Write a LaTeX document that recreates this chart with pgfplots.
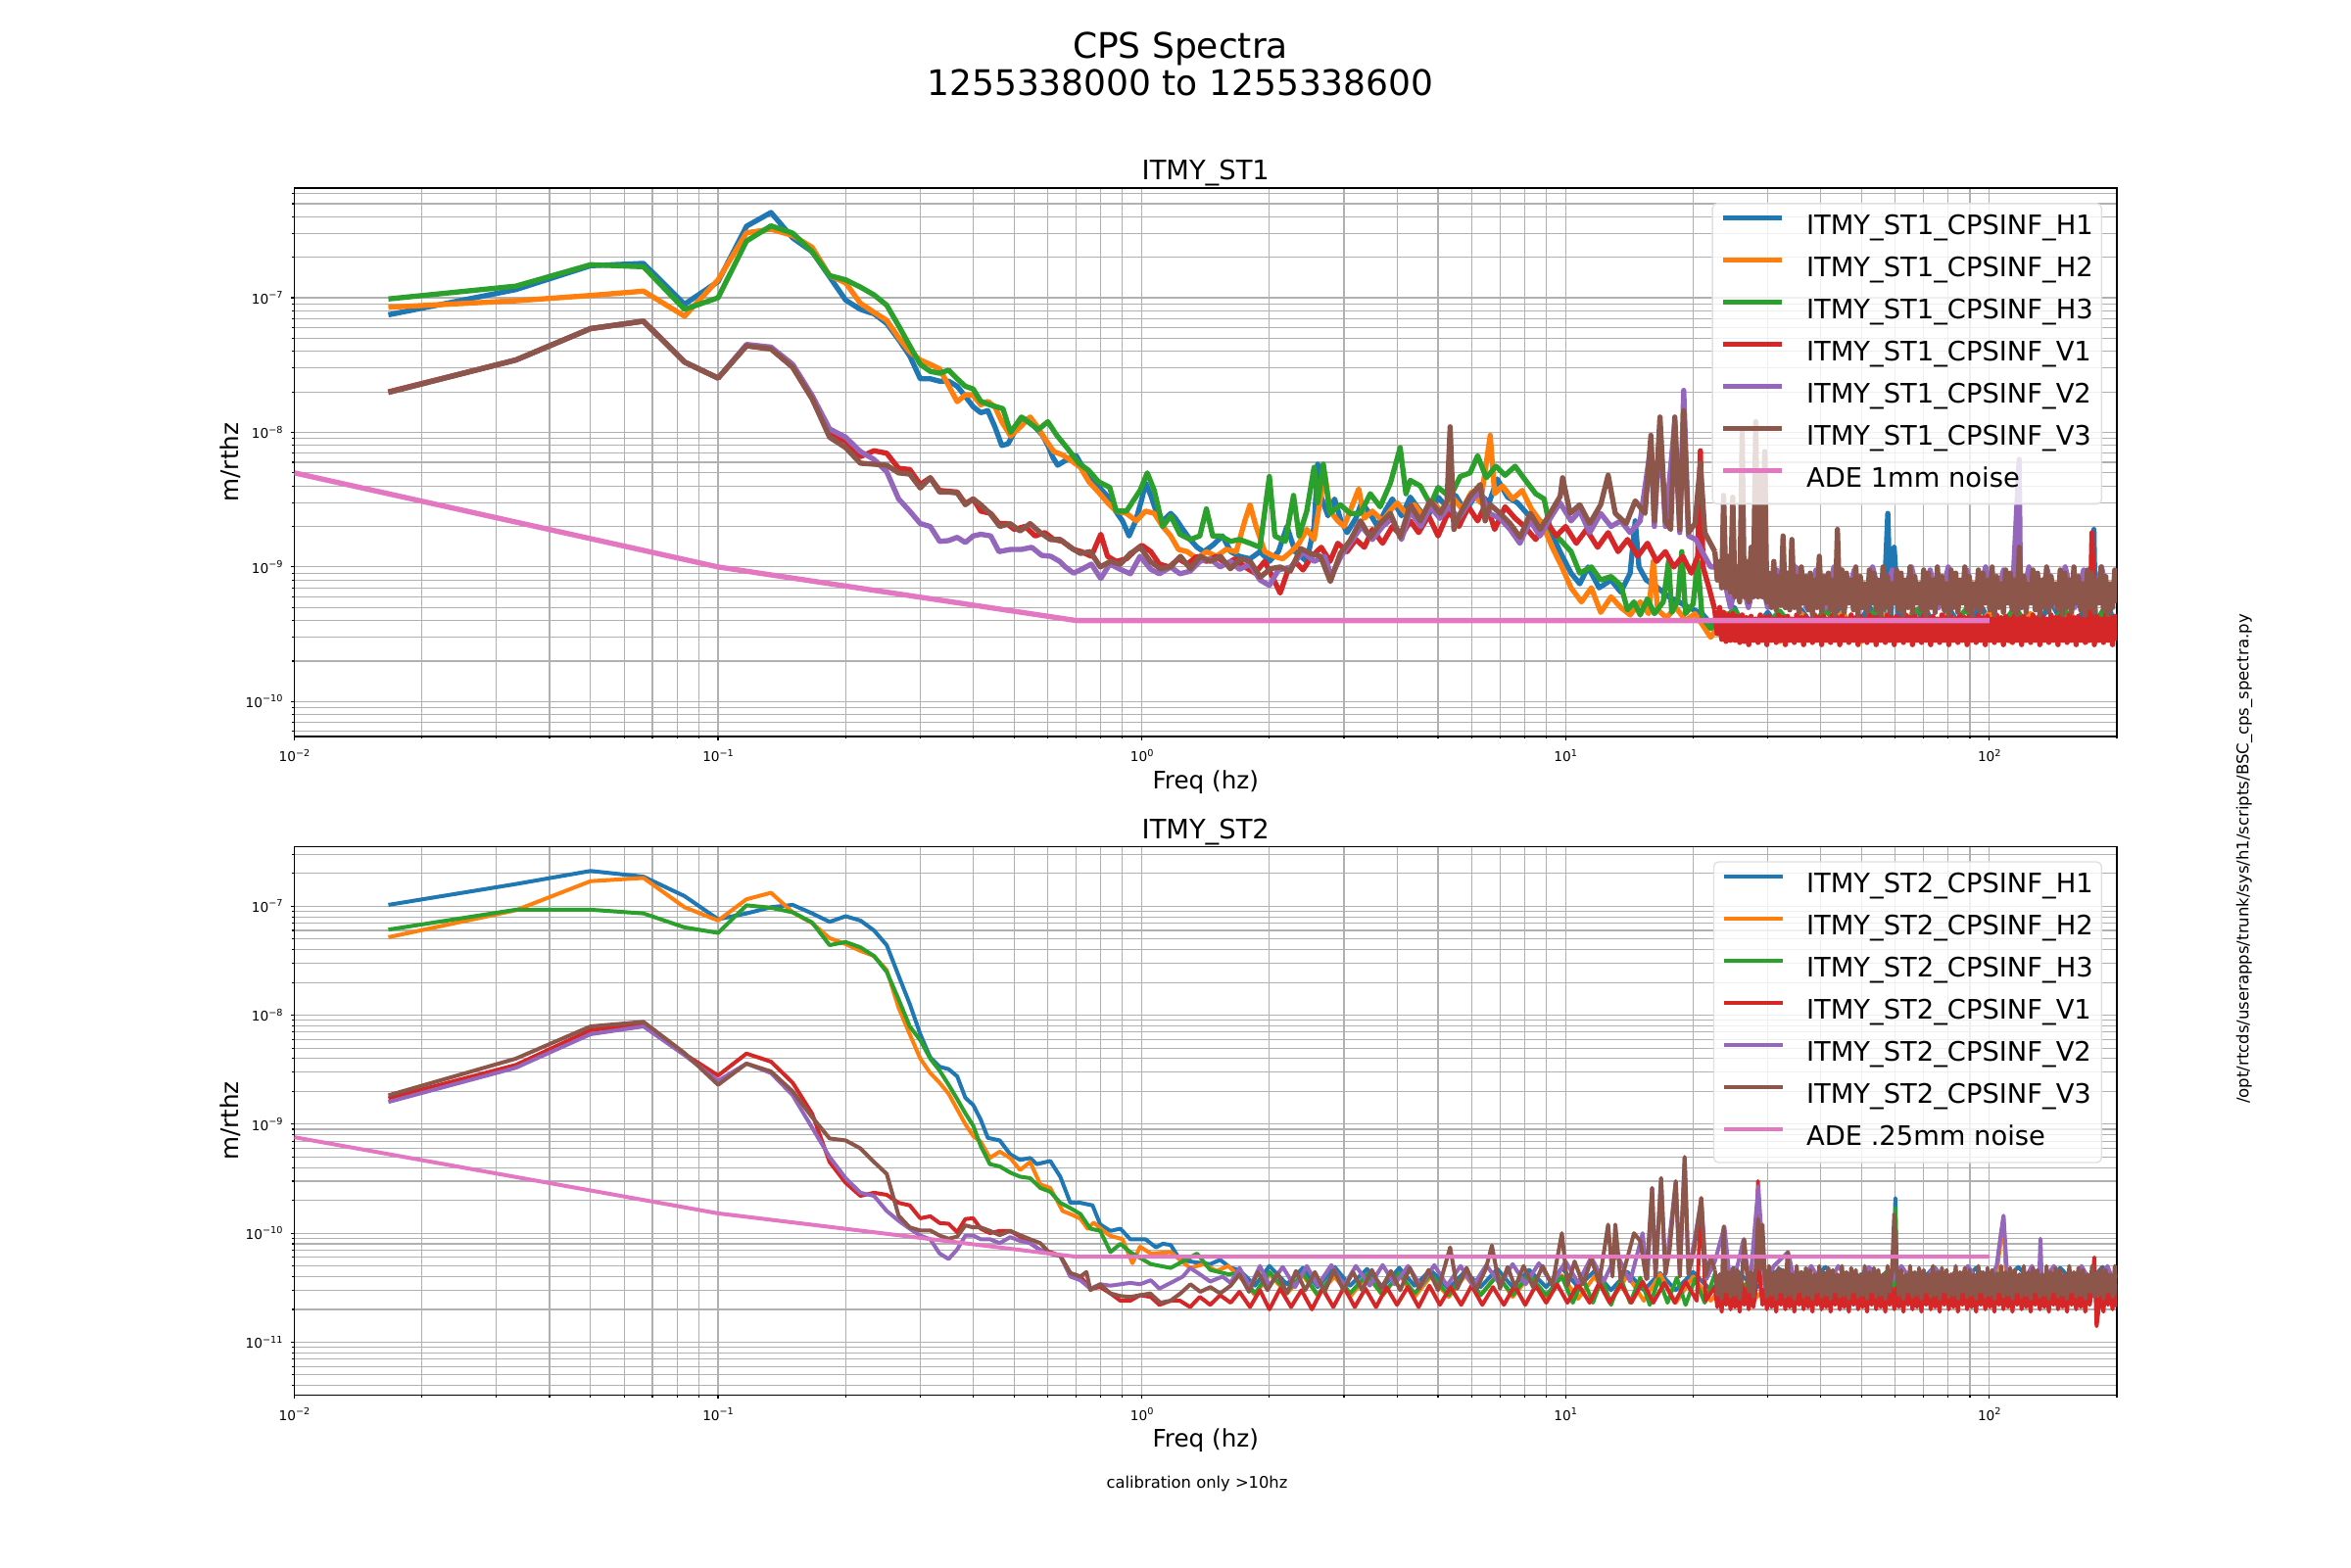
\documentclass[border=0pt]{standalone}
\usepackage{fontspec}
\setmainfont{DejaVu Sans}
\usepackage{pgfplots}
\usepackage{pgfplotstable}
\pgfplotsset{compat=1.18}
\definecolor{c0}{HTML}{1F77B4}
\definecolor{c1}{HTML}{FF7F0E}
\definecolor{c2}{HTML}{2CA02C}
\definecolor{c3}{HTML}{D62728}
\definecolor{c4}{HTML}{9467BD}
\definecolor{c5}{HTML}{8C564B}
\definecolor{c6}{HTML}{E377C2}
\definecolor{gridc}{HTML}{B0B0B0}
\tikzset{spec/.style={line width=1.2pt, line join=round}}
\tikzset{spectop/.style={line width=1.6pt, line join=round}}
\newcommand{\tklab}[1]{10\raisebox{1.7pt}{\fontsize{2.9}{3}\selectfont #1}}
\pgfplotstableread{
f r b
22.5 4.8e-10 1.3e-9
22.8 3.2e-10 8e-10
23.1 5.0e-10 1.1e-9
23.35 2.9e-10 7e-10
23.6 4.6e-10 3.4e-9
23.9 2.8e-10 7e-10
24.2 4.4e-10 1.2e-9
24.5 2.85e-10 6.5e-10
24.8 4.5e-10 3.3e-9
25.1 2.85e-10 6e-10
25.4 4.3e-10 1.0e-9
25.75 2.75e-10 5.5e-10
26.1 4.4e-10 1.0e-8
26.4 2.8e-10 6e-10
26.7 4.2e-10 1.1e-9
27.05 2.65e-10 5.5e-10
27.4 4.3e-10 1.4e-9
27.75 2.85e-10 6e-10
28.1 4.1e-10 1.2e-8
28.45 2.75e-10 6e-10
28.8 4.4e-10 4.9e-9
29.15 2.85e-10 6e-10
29.5 4.2e-10 7.2e-9
29.85 2.65e-10 5.5e-10
30.2 4.3e-10 9e-10
30.6 2.85e-10 5e-10
31.0 4.1e-10 1.1e-9
31.4 2.75e-10 4.8e-10
31.8 4.4e-10 8.5e-10
32.2 2.85e-10 5.2e-10
32.6 4.2e-10 1.7e-9
33.0 2.65e-10 5e-10
33.4 4.3e-10 9e-10
33.8 2.85e-10 4.8e-10
34.2 4.1e-10 1.6e-9
34.65 2.75e-10 5e-10
35.1 4.4e-10 8.5e-10
35.55 2.85e-10 4.6e-10
36.0 4.2e-10 1.0e-9
36.45 2.65e-10 5.4e-10
36.9 4.3e-10 8.5e-10
37.35 2.85e-10 4.8e-10
37.8 4.1e-10 9e-10
38.25 2.75e-10 4.4e-10
38.7 4.4e-10 8e-10
39.2 2.85e-10 5e-10
39.7 4.2e-10 1.2e-9
40.2 2.65e-10 4.6e-10
40.7 4.3e-10 8.5e-10
41.2 2.85e-10 5.4e-10
41.7 4.1e-10 9e-10
42.2 2.75e-10 4.8e-10
42.7 4.4e-10 8e-10
43.25 2.85e-10 4.4e-10
43.8 4.2e-10 1.9e-9
44.35 2.65e-10 5e-10
44.9 4.3e-10 9.5e-10
45.45 2.85e-10 4.6e-10
46.0 4.1e-10 9e-10
46.6 2.75e-10 5.4e-10
47.2 4.4e-10 8e-10
47.8 2.85e-10 4.8e-10
48.4 4.2e-10 1.0e-9
49.0 2.65e-10 4.4e-10
49.6 4.3e-10 8.5e-10
50.2 2.85e-10 5e-10
50.8 4.1e-10 7.5e-10
51.45 2.75e-10 4.6e-10
52.1 4.4e-10 9.5e-10
52.75 2.85e-10 5.4e-10
53.4 4.2e-10 9e-10
54.05 2.65e-10 4.8e-10
54.7 4.3e-10 8e-10
55.4 2.85e-10 4.4e-10
56.1 4.1e-10 1.0e-9
56.8 2.75e-10 5e-10
57.5 4.4e-10 8.5e-10
58.2 2.85e-10 4.6e-10
58.9 4.2e-10 7.5e-10
59.65 2.65e-10 5.4e-10
60.4 4.3e-10 9.5e-10
61.15 2.85e-10 4.8e-10
61.9 4.1e-10 9e-10
62.7 2.75e-10 4.4e-10
63.5 4.4e-10 8e-10
64.25 2.85e-10 5e-10
65.0 4.2e-10 1.0e-9
65.85 2.65e-10 4.6e-10
66.7 4.3e-10 8.5e-10
67.5 2.85e-10 5.4e-10
68.3 4.1e-10 7.5e-10
69.15 2.75e-10 4.8e-10
70.0 4.4e-10 9.5e-10
70.9 2.85e-10 4.4e-10
71.8 4.2e-10 9e-10
72.7 2.65e-10 5e-10
73.6 4.3e-10 8e-10
74.5 2.85e-10 4.6e-10
75.4 4.1e-10 1.0e-9
76.35 2.75e-10 5.4e-10
77.3 4.4e-10 8.5e-10
78.3 2.85e-10 4.8e-10
79.3 4.2e-10 7.5e-10
80.25 2.65e-10 4.4e-10
81.2 4.3e-10 9.5e-10
82.25 2.85e-10 5e-10
83.3 4.1e-10 9e-10
84.3 2.75e-10 4.6e-10
85.3 4.4e-10 8e-10
86.4 2.85e-10 5.4e-10
87.5 4.2e-10 1.0e-9
88.6 2.65e-10 4.8e-10
89.7 4.3e-10 8.5e-10
90.8 2.85e-10 4.4e-10
91.9 4.1e-10 7.5e-10
93.05 2.75e-10 5e-10
94.2 4.4e-10 9.5e-10
95.4 2.85e-10 4.6e-10
96.6 4.2e-10 9e-10
97.8 2.65e-10 5.4e-10
99.0 4.3e-10 8e-10
100.25 2.85e-10 4.8e-10
101.5 4.1e-10 1.0e-9
102.75 2.75e-10 4.4e-10
104.0 4.4e-10 8.5e-10
105.3 2.85e-10 5e-10
106.6 4.2e-10 7.5e-10
107.95 2.65e-10 4.6e-10
109.3 4.3e-10 9.5e-10
110.65 2.85e-10 5.4e-10
112.0 4.1e-10 9e-10
113.4 2.75e-10 4.8e-10
114.8 4.4e-10 8e-10
116.25 2.85e-10 4.4e-10
117.7 4.2e-10 1.4e-9
119.15 2.65e-10 5e-10
120.6 4.3e-10 8.5e-10
122.1 2.85e-10 4.6e-10
123.6 4.1e-10 7.5e-10
125.15 2.75e-10 5.4e-10
126.7 4.4e-10 9.5e-10
128.3 2.85e-10 4.8e-10
129.9 4.2e-10 9e-10
131.55 2.65e-10 4.4e-10
133.2 4.3e-10 8e-10
134.85 2.85e-10 5e-10
136.5 4.1e-10 1.0e-9
138.2 2.75e-10 4.6e-10
139.9 4.4e-10 8.5e-10
141.65 2.85e-10 5.4e-10
143.4 4.2e-10 7.5e-10
145.2 2.65e-10 4.8e-10
147.0 4.3e-10 9.5e-10
148.85 2.85e-10 4.4e-10
150.7 4.1e-10 9e-10
152.55 2.75e-10 5e-10
154.4 4.4e-10 8e-10
156.35 2.85e-10 4.6e-10
158.3 4.2e-10 1.0e-9
160.25 2.65e-10 5.4e-10
162.2 4.3e-10 8.5e-10
164.25 2.85e-10 4.8e-10
166.3 4.1e-10 7.5e-10
168.4 2.75e-10 4.4e-10
170.5 4.4e-10 9.5e-10
172.6 2.85e-10 5e-10
174.7 1.8e-9 9e-10
176.9 2.65e-10 4.6e-10
179.1 4.3e-10 8e-10
181.35 2.85e-10 5.4e-10
183.6 4.1e-10 1.0e-9
185.9 2.75e-10 4.8e-10
188.2 4.4e-10 8.5e-10
190.55 2.85e-10 4.4e-10
192.9 4.2e-10 7.5e-10
195.3 2.65e-10 5e-10
197.7 4.3e-10 9.5e-10
200 2.85e-10 5.4e-10
}\topband
\pgfplotstableread{
f r b
22.5 3.2e-11 4.6e-11
22.8 2.1e-11 2.7e-11
23.1 3.0e-11 4.2e-11
23.35 1.9e-11 2.5e-11
23.6 3.4e-11 1.15e-10
23.9 2.2e-11 2.9e-11
24.2 3.1e-11 4.4e-11
24.5 2.0e-11 2.6e-11
24.8 3.2e-11 4.8e-11
25.1 2.1e-11 2.7e-11
25.4 3.0e-11 4.6e-11
25.75 1.9e-11 2.5e-11
26.1 3.4e-11 4.2e-11
26.4 2.2e-11 8.8e-11
26.7 3.1e-11 5.0e-11
27.05 2.0e-11 2.9e-11
27.4 3.2e-11 4.4e-11
27.75 2.1e-11 2.6e-11
28.1 3.0e-11 4.8e-11
28.45 3.0e-10 1.35e-10
28.8 3.4e-11 4.6e-11
29.15 2.2e-11 1.2e-10
29.5 3.1e-11 4.2e-11
29.85 2.0e-11 2.6e-11
30.2 3.2e-11 5.0e-11
30.6 2.1e-11 2.7e-11
31.0 3.0e-11 4.4e-11
31.4 1.9e-11 2.5e-11
31.8 3.4e-11 4.8e-11
32.2 2.2e-11 2.9e-11
32.6 3.1e-11 4.6e-11
33.0 2.0e-11 2.6e-11
33.4 3.2e-11 6.7e-11
33.8 2.1e-11 2.7e-11
34.2 3.0e-11 4.2e-11
34.65 1.9e-11 2.5e-11
35.1 3.4e-11 5.0e-11
35.55 2.2e-11 2.9e-11
36.0 3.1e-11 4.4e-11
36.45 2.0e-11 2.6e-11
36.9 3.2e-11 4.8e-11
37.35 2.1e-11 2.7e-11
37.8 3.0e-11 4.6e-11
38.25 1.9e-11 2.5e-11
38.7 3.4e-11 4.2e-11
39.2 2.2e-11 2.9e-11
39.7 3.1e-11 5.0e-11
40.2 2.0e-11 2.6e-11
40.7 3.2e-11 4.4e-11
41.2 2.1e-11 2.7e-11
41.7 3.0e-11 4.8e-11
42.2 1.9e-11 2.5e-11
42.7 3.4e-11 4.6e-11
43.25 2.2e-11 2.9e-11
43.8 3.1e-11 4.2e-11
44.35 2.0e-11 2.6e-11
44.9 3.2e-11 5.0e-11
45.45 2.1e-11 2.7e-11
46.0 3.0e-11 4.4e-11
46.6 1.9e-11 2.5e-11
47.2 3.4e-11 4.8e-11
47.8 2.2e-11 2.9e-11
48.4 3.1e-11 4.6e-11
49.0 2.0e-11 2.6e-11
49.6 3.2e-11 4.2e-11
50.2 2.1e-11 2.7e-11
50.8 3.0e-11 5.0e-11
51.45 1.9e-11 2.5e-11
52.1 3.4e-11 4.4e-11
52.75 2.2e-11 2.9e-11
53.4 3.1e-11 4.8e-11
54.05 2.0e-11 2.6e-11
54.7 3.2e-11 4.6e-11
55.4 2.1e-11 2.7e-11
56.1 3.0e-11 4.2e-11
56.8 1.9e-11 2.5e-11
57.5 3.4e-11 5.0e-11
58.2 2.2e-11 2.9e-11
58.9 3.1e-11 4.4e-11
59.65 2.0e-11 1.5e-10
60.4 3.2e-11 4.8e-11
61.15 2.1e-11 2.7e-11
61.9 3.0e-11 4.6e-11
62.7 1.9e-11 2.5e-11
63.5 3.4e-11 4.2e-11
64.25 2.2e-11 2.9e-11
65.0 3.1e-11 5.0e-11
65.85 2.0e-11 2.6e-11
66.7 3.2e-11 4.4e-11
67.5 2.1e-11 2.7e-11
68.3 3.0e-11 4.8e-11
69.15 1.9e-11 2.5e-11
70.0 3.4e-11 4.6e-11
70.9 2.2e-11 2.9e-11
71.8 3.1e-11 4.2e-11
72.7 2.0e-11 2.6e-11
73.6 3.2e-11 5.0e-11
74.5 2.1e-11 2.7e-11
75.4 3.0e-11 4.4e-11
76.35 1.9e-11 2.5e-11
77.3 3.4e-11 4.8e-11
78.3 2.2e-11 2.9e-11
79.3 3.1e-11 4.6e-11
80.25 2.0e-11 2.6e-11
81.2 3.2e-11 4.2e-11
82.25 2.1e-11 2.7e-11
83.3 3.0e-11 5.0e-11
84.3 1.9e-11 2.5e-11
85.3 3.4e-11 4.4e-11
86.4 2.2e-11 2.9e-11
87.5 3.1e-11 4.8e-11
88.6 2.0e-11 2.6e-11
89.7 3.2e-11 4.6e-11
90.8 2.1e-11 2.7e-11
91.9 3.0e-11 4.2e-11
93.05 1.9e-11 2.5e-11
94.2 3.4e-11 5.0e-11
95.4 2.2e-11 2.9e-11
96.6 3.1e-11 4.4e-11
97.8 2.0e-11 2.6e-11
99.0 3.2e-11 4.8e-11
100.25 2.1e-11 2.7e-11
101.5 3.0e-11 4.6e-11
102.75 1.9e-11 2.5e-11
104.0 3.4e-11 4.2e-11
105.3 2.2e-11 2.9e-11
106.6 3.1e-11 5.0e-11
107.95 2.0e-11 2.6e-11
109.3 3.2e-11 4.4e-11
110.65 2.1e-11 2.7e-11
112.0 3.0e-11 4.8e-11
113.4 1.9e-11 2.5e-11
114.8 3.4e-11 4.6e-11
116.25 2.2e-11 2.9e-11
117.7 3.1e-11 4.2e-11
119.15 2.0e-11 2.6e-11
120.6 3.2e-11 5.0e-11
122.1 2.1e-11 2.7e-11
123.6 3.0e-11 4.4e-11
125.15 1.9e-11 2.5e-11
126.7 3.4e-11 4.8e-11
128.3 2.2e-11 2.9e-11
129.9 3.1e-11 4.6e-11
131.55 2.0e-11 2.6e-11
133.2 3.2e-11 4.2e-11
134.85 2.1e-11 2.7e-11
136.5 3.0e-11 5.0e-11
138.2 1.9e-11 2.5e-11
139.9 3.4e-11 4.4e-11
141.65 2.2e-11 2.9e-11
143.4 3.1e-11 4.8e-11
145.2 2.0e-11 2.6e-11
147.0 3.2e-11 4.6e-11
148.85 2.1e-11 2.7e-11
150.7 3.0e-11 4.2e-11
152.55 1.9e-11 2.5e-11
154.4 3.4e-11 5.0e-11
156.35 2.2e-11 2.9e-11
158.3 3.1e-11 4.4e-11
160.25 2.0e-11 2.6e-11
162.2 3.2e-11 4.8e-11
164.25 2.1e-11 2.7e-11
166.3 3.0e-11 4.6e-11
168.4 1.9e-11 2.5e-11
170.5 3.4e-11 4.2e-11
172.6 2.2e-11 2.9e-11
174.7 3.1e-11 5.0e-11
176.9 6.0e-11 2.6e-11
179.1 1.4e-11 4.4e-11
181.35 2.1e-11 2.7e-11
183.6 3.2e-11 4.8e-11
185.9 1.9e-11 2.5e-11
188.2 3.4e-11 4.6e-11
190.55 2.2e-11 2.9e-11
192.9 3.1e-11 4.2e-11
195.3 2.0e-11 2.6e-11
197.7 3.2e-11 5.0e-11
200 2.1e-11 2.7e-11
}\botband
\begin{document}
\begin{tikzpicture}
\path[use as bounding box] (0,0) rectangle (720pt,480pt);
\node[anchor=base, font=\fontsize{10.8}{13}\selectfont] at (361.5pt,462pt) {CPS Spectra};
\node[anchor=base, font=\fontsize{10.8}{13}\selectfont] at (361.5pt,450.6pt) {1255338000 to 1255338600};
\node[anchor=base, font=\fontsize{4.9}{6}\selectfont] at (366.6pt,24.2pt) {calibration only >10hz};
\node[rotate=90, anchor=center, font=\fontsize{4.95}{6}\selectfont] at (687.3pt,216.9pt) {/opt/rtcds/userapps/trunk/sys/h1/scripts/BSC\_cps\_spectra.py};

% ---------------- TOP: ITMY_ST1 ----------------
\begin{axis}[at={(90.15pt,254.4pt)}, anchor=south west,
  xmode=log, ymode=log,
  scale only axis, width=558.15pt, height=168pt,
  xmin=0.01, xmax=200,
  xtick={0.01,0.1,1,10,100},
  xticklabels={\tklab{−2},\tklab{−1},\tklab{0},\tklab{1},\tklab{2}},
  minor xtick={0.02,0.03,0.04,0.05,0.06,0.07,0.08,0.09,0.2,0.3,0.4,0.5,0.6,0.7,0.8,0.9,2,3,4,5,6,7,8,9,20,30,40,50,60,70,80,90,200},
  grid=both,
  major grid style={gridc, line width=0.35pt},
  minor grid style={gridc, line width=0.35pt},
  axis line style={black, line width=0.5pt},
  tick style={black, line width=0.35pt},
  tick align=outside, major tick length=1.1pt, minor tick length=0.7pt,
  xtick pos=bottom, ytick pos=left,
  xticklabel style={font=\fontsize{4.1}{5}\selectfont, anchor=north, inner sep=0pt, yshift=-2.6pt},
  yticklabel style={font=\fontsize{4.1}{5}\selectfont, anchor=east, inner sep=0pt, xshift=-2.3pt},
  xlabel={Freq (hz)}, ylabel={m/rthz},
  xlabel style={font=\fontsize{7.4}{8}\selectfont, at={(axis description cs:0.5,0)}, anchor=base, yshift=-15.9pt},
  ylabel style={font=\fontsize{7.4}{8}\selectfont, at={(axis description cs:-0.0353,0.5)}, anchor=center},
  title style={font=\fontsize{8.2}{10}\selectfont, at={(axis description cs:0.5,1)}, anchor=base, yshift=-3.5pt},
  legend cell align=left,
  legend style={at={(axis description cs:1,1)}, anchor=north east, xshift=-4.5pt, yshift=-4.5pt,
    draw=gray!25, line width=0.4pt, rounded corners=1.5pt, fill=white, fill opacity=0.8, text opacity=1, draw opacity=1,
    font=\fontsize{8.2}{10}\selectfont, inner xsep=2.6pt, inner ysep=3.2pt, row sep=4.6pt, column sep=0pt,
    nodes={inner sep=0pt, text height=6.3pt, text depth=2pt}},
  legend image code/.code={\draw[#1, line width=1.6pt] (0pt,2.9pt) -- (18pt,2.9pt); \path (0pt,0pt) (24.6pt,0pt);},
  ymin=5.5e-11, ymax=6.53e-7,
  ytick={1e-10,1e-9,1e-8,1e-7},
  yticklabels={\tklab{−10},\tklab{−9},\tklab{−8},\tklab{−7}},
  minor ytick={6e-11,7e-11,8e-11,9e-11,2e-10,3e-10,4e-10,5e-10,6e-10,7e-10,8e-10,9e-10,2e-9,3e-9,4e-9,5e-9,6e-9,7e-9,8e-9,9e-9,2e-8,3e-8,4e-8,5e-8,6e-8,7e-8,8e-8,9e-8,2e-7,3e-7,4e-7,5e-7,6e-7},
  title={ITMY\_ST1}]
\addplot[c0, spectop] coordinates {
(0.01667,7.47e-8)(0.03333,1.15e-7)(0.05,1.73e-7)(0.06667,1.8e-7)(0.08333,8.95e-8)(0.1,1.32e-7)(0.1167,3.4e-7)(0.1333,4.3e-7)(0.15,2.78e-7)(0.1667,2.2e-7)(0.1833,1.43e-7)(0.2,9.6e-8)(0.2167,8.2e-8)(0.2333,7.6e-8)(0.25,6.45e-8)(0.2667,4.9e-8)(0.2833,3.7e-8)(0.3,2.5e-8)(0.3167,2.5e-8)(0.3333,2.4e-8)(0.35,2.4e-8)(0.3667,2.2e-8)(0.3833,1.85e-8)(0.4,1.55e-8)
(0.4167,1.4e-8)(0.433,1.45e-8)(0.45,1.1e-8)(0.467,8e-9)(0.483,8.2e-9)(0.5,1.0e-8)(0.517,1.2e-8)(0.533,1.26e-8)(0.55,1.15e-8)(0.567,1.05e-8)(0.583,9.5e-9)(0.6,8e-9)(0.617,6.5e-9)(0.633,5.7e-9)(0.65,6.0e-9)(0.667,6.3e-9)(0.7,6.7e-9)(0.733,5.2e-9)(0.767,4.5e-9)(0.8,3.8e-9)(0.833,3.3e-9)(0.867,2.6e-9)(0.9,2.2e-9)(0.933,1.7e-9)(0.967,2.2e-9)(1.0,3.2e-9)(1.02,4.2e-9)(1.05,3.4e-9)(1.08,2.6e-9)(1.12,2.2e-9)(1.17,2.5e-9)(1.2,2.3e-9)(1.25,1.9e-9)(1.3,1.6e-9)(1.35,1.4e-9)(1.4,1.3e-9)(1.47,1.45e-9)(1.55,1.7e-9)(1.62,1.3e-9)(1.7,1.2e-9)(1.8,1.15e-9)(1.9,1.3e-9)(2.0,1.1e-9)(2.1,1.3e-9)(2.2,2.0e-9)(2.3,1.3e-9)(2.45,1.1e-9)(2.55,2.0e-9)(2.6,5.8e-9)(2.65,3.3e-9)(2.75,2.4e-9)(2.85,3.2e-9)(2.95,2.2e-9)(3.05,1.8e-9)(3.2,2.3e-9)(3.3,3.0e-9)(3.45,2.5e-9)(3.6,2.0e-9)(3.75,2.6e-9)(3.9,3.2e-9)(4.1,2.4e-9)(4.3,3.3e-9)(4.5,2.7e-9)(4.7,2.3e-9)(5.0,3.3e-9)(5.3,2.7e-9)(5.5,3.4e-9)(5.8,2.6e-9)(6.2,3.6e-9)(6.6,3.0e-9)(6.9,4.5e-9)(7.3,3.3e-9)(7.7,3.0e-9)(8.2,2.4e-9)(8.7,2.2e-9)(9.2,1.9e-9)(9.7,1.3e-9)(10.3,9e-10)(10.8,7.5e-10)(11.3,1.0e-9)(12.0,7e-10)(12.8,8e-10)(13.5,6.5e-10)(14.2,9e-10)(14.6,2.2e-9)(14.9,1.0e-9)(15.5,8e-10)(16.5,7e-10)(17.5,6e-10)(18.5,5.5e-10)(19.5,5e-10)
(21,4.5e-10)(23,3.2e-10)(25,5e-10)(27,3e-10)(30,4.6e-10)(33,2.9e-10)(36,4.8e-10)(40,3.0e-10)(44,5e-10)(48,3.1e-10)(52,5.2e-10)(56,3.0e-10)(57.6,2.5e-9)(58.5,4e-10)(59.6,1.4e-9)(61,4.5e-10)(65,3e-10)(70,5.5e-10)(75,3e-10)(80,5e-10)(88,3.1e-10)(95,5.3e-10)(105,3e-10)(115,5.2e-10)(125,3e-10)(140,5.5e-10)(155,3e-10)(170,5.4e-10)(175.5,3.2e-10)(176.5,1.9e-9)(178,3.5e-10)(190,5.5e-10)(200,3.2e-10)};
\addlegendentry{ITMY\_ST1\_CPSINF\_H1}
\addplot[c1, spectop] coordinates {
(0.01667,8.5e-8)(0.03333,9.5e-8)(0.05,1.04e-7)(0.06667,1.12e-7)(0.08333,7.3e-8)(0.1,1.36e-7)(0.1167,3.04e-7)(0.1333,3.23e-7)(0.15,2.9e-7)(0.1667,2.37e-7)(0.1833,1.46e-7)(0.2,1.29e-7)(0.2167,9.1e-8)(0.2333,7.8e-8)(0.25,6.8e-8)(0.2667,5.06e-8)(0.2833,3.97e-8)(0.3,3.45e-8)(0.3167,3.2e-8)(0.3333,2.96e-8)(0.35,2.22e-8)(0.3667,1.69e-8)(0.3833,1.9e-8)(0.4,1.88e-8)
(0.4167,1.6e-8)(0.433,1.7e-8)(0.45,1.55e-8)(0.467,1.2e-8)(0.49,9.4e-9)(0.517,1.1e-8)(0.545,1.3e-8)(0.567,1.1e-8)(0.59,9e-9)(0.62,7.2e-9)(0.65,6.8e-9)(0.68,6.2e-9)(0.716,5.5e-9)(0.75,4.3e-9)(0.79,3.6e-9)(0.83,3.0e-9)(0.87,2.6e-9)(0.92,2.5e-9)(0.97,2.2e-9)(1.02,2.6e-9)(1.07,2.5e-9)(1.12,2.0e-9)(1.17,1.7e-9)(1.22,1.35e-9)(1.28,1.3e-9)(1.35,1.15e-9)(1.42,1.3e-9)(1.5,1.2e-9)(1.58,1.35e-9)(1.67,1.3e-9)(1.75,2.2e-9)(1.8,2.9e-9)(1.86,2.0e-9)(1.95,1.3e-9)(2.05,1.2e-9)(2.15,1.15e-9)(2.25,1.3e-9)(2.35,1.5e-9)(2.45,1.9e-9)(2.55,1.6e-9)(2.62,2.8e-9)(2.7,5.0e-9)(2.78,2.6e-9)(2.9,2.2e-9)(3.0,2.0e-9)(3.1,2.6e-9)(3.25,3.8e-9)(3.35,2.3e-9)(3.5,2.6e-9)(3.7,2.2e-9)(3.85,2.6e-9)(4.0,3.0e-9)(4.2,2.5e-9)(4.4,2.9e-9)(4.6,2.4e-9)(4.85,3.0e-9)(5.1,2.6e-9)(5.4,3.3e-9)(5.7,2.7e-9)(6.0,3.6e-9)(6.3,3.0e-9)(6.64,9.5e-9)(6.8,3.5e-9)(7.1,4.0e-9)(7.5,3.2e-9)(7.9,3.7e-9)(8.3,2.7e-9)(8.8,2.1e-9)(9.3,1.4e-9)(9.8,1.0e-9)(10.3,7e-10)(10.9,5.5e-10)(11.5,7e-10)(12.1,4.6e-10)(12.8,6e-10)(13.5,5e-10)(14.2,4.4e-10)(15,5.5e-10)(15.7,4.5e-10)(16.1,1.1e-9)(16.5,4.8e-10)(17.3,4.2e-10)(18.2,5e-10)(19.2,4e-10)(20.2,4.5e-10)
(22,3e-10)(24,4.5e-10)(26,2.8e-10)(29,4.3e-10)(32,2.8e-10)(36,4.5e-10)(40,2.9e-10)(45,4.6e-10)(50,2.8e-10)(56,4.5e-10)(60,3e-10)(66,4.6e-10)(73,2.8e-10)(80,4.5e-10)(90,2.9e-10)(100,4.6e-10)(112,2.8e-10)(125,4.5e-10)(140,2.9e-10)(155,4.6e-10)(170,2.8e-10)(185,4.4e-10)(200,3e-10)};
\addlegendentry{ITMY\_ST1\_CPSINF\_H2}
\addplot[c2, spectop] coordinates {
(0.01667,9.8e-8)(0.03333,1.22e-7)(0.05,1.76e-7)(0.06667,1.7e-7)(0.08333,8.2e-8)(0.1,1.0e-7)(0.1167,2.64e-7)(0.1333,3.42e-7)(0.15,3.02e-7)(0.1667,2.2e-7)(0.1833,1.46e-7)(0.2,1.36e-7)(0.2167,1.2e-7)(0.2333,1.05e-7)(0.25,8.8e-8)(0.2667,6.2e-8)(0.2833,4.4e-8)(0.3,3.2e-8)(0.3167,2.84e-8)(0.3333,2.75e-8)(0.35,2.9e-8)(0.3667,2.5e-8)(0.3833,2.2e-8)(0.4,2.1e-8)
(0.4167,1.7e-8)(0.438,1.6e-8)(0.47,1.5e-8)(0.49,1.0e-8)(0.52,1.3e-8)(0.57,1.05e-8)(0.6,1.2e-8)(0.63,9.5e-9)(0.67,7.5e-9)(0.71,5.9e-9)(0.75,5.2e-9)(0.79,4.3e-9)(0.84,3.9e-9)(0.87,2.6e-9)(0.92,2.6e-9)(0.99,3.7e-9)(1.03,5e-9)(1.07,3.7e-9)(1.12,2.0e-9)(1.17,2.4e-9)(1.23,1.75e-9)(1.3,1.6e-9)(1.37,1.7e-9)(1.42,2.7e-9)(1.47,1.7e-9)(1.53,1.7e-9)(1.62,1.55e-9)(1.7,1.6e-9)(1.8,1.5e-9)(1.9,1.4e-9)(2.0,4.7e-9)(2.06,1.7e-9)(2.18,1.55e-9)(2.28,3.4e-9)(2.35,1.7e-9)(2.45,2.6e-9)(2.55,5.5e-9)(2.6,3.0e-9)(2.68,5.8e-9)(2.78,2.5e-9)(2.94,2.9e-9)(3.1,2.5e-9)(3.28,2.5e-9)(3.46,3.5e-9)(3.65,2.8e-9)(3.86,4.2e-9)(4.07,7.7e-9)(4.2,3.5e-9)(4.3,4.4e-9)(4.54,4.0e-9)(4.8,2.9e-9)(5.0,3.9e-9)(5.34,3.3e-9)(5.64,4.7e-9)(5.95,5.0e-9)(6.2,6.7e-9)(6.5,4.6e-9)(6.85,5.6e-9)(7.2,4.8e-9)(7.6,5.6e-9)(8.0,4.5e-9)(8.5,3.5e-9)(8.9,3.2e-9)(9.2,1.9e-9)(9.7,1.6e-9)(10.3,1.3e-9)(10.8,9e-10)(11.5,1.0e-9)(12.1,8e-10)(12.8,8.5e-10)(13.5,7.3e-10)(14,4.8e-10)(14.5,5.5e-10)(15,4.4e-10)(15.6,5.8e-10)(16.2,4.5e-10)(17,5.5e-10)(17.5,1.1e-9)(17.8,4.6e-10)(18.4,5.6e-10)(18.8,1.3e-9)(19.2,4.5e-10)(20,5.3e-10)(20.5,1.1e-9)(21,4.2e-10)
(22,3.5e-10)(25,4.8e-10)(28,3e-10)(32,4.7e-10)(36,3e-10)(41,4.8e-10)(47,3e-10)(54,4.8e-10)(60,3.1e-10)(68,4.9e-10)(77,3e-10)(88,4.8e-10)(100,3e-10)(115,4.9e-10)(130,3e-10)(150,4.8e-10)(170,3e-10)(185,4.7e-10)(200,3.1e-10)};
\addlegendentry{ITMY\_ST1\_CPSINF\_H3}
\addplot[c3, spectop] coordinates {
(0.01667,2.0e-8)(0.03333,3.45e-8)(0.05,5.9e-8)(0.06667,6.7e-8)(0.08333,3.33e-8)(0.1,2.53e-8)(0.1167,4.4e-8)(0.1333,4.17e-8)(0.15,3.05e-8)(0.1667,1.78e-8)(0.1833,9.7e-9)(0.2,8.6e-9)(0.2167,6.6e-9)(0.2333,7.3e-9)(0.25,7.0e-9)(0.2667,5.4e-9)(0.2833,5.3e-9)(0.3,4.1e-9)(0.3167,4.6e-9)(0.3333,3.7e-9)(0.35,3.65e-9)(0.3667,3.6e-9)(0.3833,2.96e-9)(0.4,3.2e-9)
(0.4167,2.6e-9)(0.44,2.5e-9)(0.46,2.1e-9)(0.48,2.1e-9)(0.5,1.9e-9)(0.53,2.0e-9)(0.56,1.7e-9)(0.59,1.8e-9)(0.62,1.6e-9)(0.65,1.55e-9)(0.69,1.35e-9)(0.72,1.3e-9)(0.76,1.2e-9)(0.8,1.75e-9)(0.83,1.2e-9)(0.87,1.1e-9)(0.92,1.15e-9)(0.97,1.35e-9)(1.0,1.45e-9)(1.05,1.3e-9)(1.1,1.05e-9)(1.16,1.0e-9)(1.22,1.15e-9)(1.28,1.05e-9)(1.35,1.2e-9)(1.42,1.1e-9)(1.5,1.2e-9)(1.58,1.05e-9)(1.66,1.15e-9)(1.75,1.0e-9)(1.85,9e-10)(1.95,1.1e-9)(2.05,8e-10)(2.12,6.4e-10)(2.2,9e-10)(2.3,1.1e-9)(2.4,9.5e-10)(2.52,1.2e-9)(2.65,1.4e-9)(2.78,1.1e-9)(2.9,1.5e-9)(3.05,1.3e-9)(3.2,1.6e-9)(3.35,1.4e-9)(3.5,1.9e-9)(3.7,1.5e-9)(3.9,2.0e-9)(4.1,1.7e-9)(4.3,2.2e-9)(4.5,1.8e-9)(4.75,2.4e-9)(5.0,1.7e-9)(5.3,2.6e-9)(5.6,2.0e-9)(5.9,2.8e-9)(6.2,2.2e-9)(6.5,3.0e-9)(6.8,1.9e-9)(7.2,2.8e-9)(7.6,2.3e-9)(8.0,2.0e-9)(8.5,1.6e-9)(9.0,2.2e-9)(9.5,1.7e-9)(10,2.0e-9)(10.6,1.5e-9)(11.2,1.9e-9)(11.9,1.4e-9)(12.6,1.8e-9)(13.3,1.3e-9)(14,1.6e-9)(14.8,1.2e-9)(15.6,1.5e-9)(16.4,1.1e-9)(17.2,1.3e-9)(18,1.0e-9)(18.9,1.2e-9)(19.8,9e-10)(20.5,1.2e-9)(20.8,7.3e-9)(21.1,1.0e-9)(21.8,7e-10)(22.5,4.8e-10)};
\addlegendentry{ITMY\_ST1\_CPSINF\_V1}
\addplot[c3, spectop, forget plot] table[x=f, y=r] {\topband};
\addplot[c4, spectop] coordinates {
(0.01667,1.98e-8)(0.03333,3.45e-8)(0.05,5.9e-8)(0.06667,6.7e-8)(0.08333,3.33e-8)(0.1,2.53e-8)(0.1167,4.5e-8)(0.1333,4.3e-8)(0.15,3.2e-8)(0.1667,1.88e-8)(0.1833,1.06e-8)(0.2,9.2e-9)(0.2167,7.2e-9)(0.2333,6.3e-9)(0.25,5.1e-9)(0.2667,3.2e-9)(0.2833,2.6e-9)(0.3,2.1e-9)(0.3167,2.0e-9)(0.3333,1.55e-9)(0.35,1.57e-9)(0.3667,1.66e-9)(0.3833,1.52e-9)(0.4,1.7e-9)
(0.4167,1.75e-9)(0.44,1.7e-9)(0.46,1.3e-9)(0.49,1.35e-9)(0.52,1.35e-9)(0.55,1.4e-9)(0.58,1.22e-9)(0.61,1.2e-9)(0.64,1.1e-9)(0.66,1.0e-9)(0.69,9e-10)(0.72,9.6e-10)(0.76,1.05e-9)(0.8,8.2e-10)(0.84,1.05e-9)(0.89,9.6e-10)(0.94,8.9e-10)(0.99,1.2e-9)(1.05,9.6e-10)(1.1,8.9e-10)(1.17,1.0e-9)(1.23,8.9e-10)(1.3,9.3e-10)(1.37,1.1e-9)(1.45,1.15e-9)(1.53,1.0e-9)(1.62,1.1e-9)(1.7,9.6e-10)(1.8,1.05e-9)(1.9,8e-10)(2.0,7.3e-10)(2.1,9.5e-10)(2.25,1.0e-9)(2.4,1.3e-9)(2.55,1.1e-9)(2.7,1.2e-9)(2.8,8.5e-10)(2.95,1.2e-9)(3.1,1.5e-9)(3.3,2.0e-9)(3.5,1.6e-9)(3.7,2.0e-9)(3.9,2.3e-9)(4.1,1.6e-9)(4.3,2.6e-9)(4.55,2.0e-9)(4.8,2.8e-9)(5.05,2.3e-9)(5.3,2.8e-9)(5.6,2.3e-9)(5.95,3.1e-9)(6.3,3.6e-9)(6.6,2.5e-9)(7.0,2.3e-9)(7.4,1.9e-9)(7.8,1.5e-9)(8.25,2.2e-9)(8.7,1.7e-9)(9.2,2.3e-9)(9.7,3.0e-9)(10.3,2.2e-9)(10.8,2.6e-9)(11.4,1.8e-9)(12.1,2.5e-9)(12.8,2.0e-9)(13.5,2.2e-9)(14.2,1.8e-9)(15,2.2e-9)(15.9,8e-9)(16.2,2.0e-9)(16.7,1.1e-8)(17.2,2.0e-9)(18.1,1.2e-8)(18.6,1.8e-9)(19.0,2.05e-8)(19.5,1.7e-9)(20.3,1.6e-9)(21,1.3e-9)(22,1.0e-9)
(23.3,1.0e-9)(24.5,5e-10)(25.7,9.5e-10)(27,5e-10)(28.5,1.0e-9)(30,5e-10)(31.5,9.5e-10)(33,5e-10)(35,1.0e-9)(37,5e-10)(39,9.5e-10)(41,5e-10)(43,1.0e-9)(45.5,5e-10)(48,9.5e-10)(50.5,5e-10)(53,1.0e-9)(56,5e-10)(59,9.5e-10)(62,5e-10)(65.5,1.0e-9)(69,5e-10)(72.5,9.5e-10)(76,5e-10)(80,1.0e-9)(84,5e-10)(88.5,9.5e-10)(93,5e-10)(98,1.0e-9)(103,5e-10)(108,9.5e-10)(113,5e-10)(117.6,6.3e-9)(118.5,5e-10)(124,1.0e-9)(130,5e-10)(137,9.5e-10)(144,5e-10)(151,1.0e-9)(159,5e-10)(167,9.5e-10)(175,5e-10)(184,1.0e-9)(192,5e-10)(200,9.5e-10)};
\addlegendentry{ITMY\_ST1\_CPSINF\_V2}
\addplot[c5, spectop] coordinates {
(0.01667,1.98e-8)(0.03333,3.45e-8)(0.05,5.9e-8)(0.06667,6.7e-8)(0.08333,3.33e-8)(0.1,2.53e-8)(0.1167,4.4e-8)(0.1333,4.17e-8)(0.15,3.05e-8)(0.1667,1.78e-8)(0.1833,9.2e-9)(0.2,7.7e-9)(0.2167,5.9e-9)(0.2333,5.8e-9)(0.25,5.7e-9)(0.2667,5.0e-9)(0.2833,4.9e-9)(0.3,3.86e-9)(0.3167,4.6e-9)(0.3333,3.6e-9)(0.35,3.6e-9)(0.3667,3.55e-9)(0.3833,2.9e-9)(0.4,3.2e-9)
(0.4167,2.9e-9)(0.438,2.5e-9)(0.462,2.0e-9)(0.489,2.1e-9)(0.516,1.85e-9)(0.545,2.1e-9)(0.576,1.8e-9)(0.608,1.6e-9)(0.642,1.6e-9)(0.678,1.4e-9)(0.716,1.26e-9)(0.756,1.3e-9)(0.798,1.0e-9)(0.843,1.1e-9)(0.89,1.05e-9)(0.939,1.26e-9)(0.992,1.4e-9)(1.047,1.1e-9)(1.106,9.7e-10)(1.168,1.0e-9)(1.233,1.2e-9)(1.302,9.7e-10)(1.374,1.2e-9)(1.451,1.1e-9)(1.532,1.2e-9)(1.618,9.7e-10)(1.708,1.15e-9)(1.803,1.1e-9)(1.904,8.4e-10)(2.01,9.7e-10)(2.12,1.0e-9)(2.24,9.3e-10)(2.37,1.37e-9)(2.5,1.26e-9)(2.64,1.2e-9)(2.785,7.8e-10)(2.94,1.26e-9)(3.1,1.57e-9)(3.28,2.2e-9)(3.46,1.66e-9)(3.65,2.1e-9)(3.86,2.5e-9)(4.07,1.66e-9)(4.3,2.9e-9)(4.54,2.2e-9)(4.79,3.1e-9)(5.06,2.5e-9)(5.25,3.1e-9)(5.34,1.1e-8)(5.45,1.9e-9)(5.64,2.5e-9)(5.95,3.35e-9)(6.29,4.1e-9)(6.46,2.2e-9)(6.64,2.9e-9)(7.01,2.5e-9)(7.4,2.1e-9)(7.81,1.66e-9)(8.25,2.5e-9)(8.71,1.9e-9)(9.19,2.5e-9)(9.71,3.35e-9)(9.84,4.6e-9)(10.25,2.5e-9)(10.8,2.9e-9)(11.4,2.1e-9)(12.1,2.9e-9)(12.6,4.8e-9)(13.1,2.5e-9)(13.9,2.1e-9)(14.6,3.1e-9)(15.4,2.5e-9)(15.9,9.5e-9)(16.2,2.2e-9)(16.7,1.3e-8)(17.2,2.2e-9)(17.7,1.9e-9)(18.1,1.3e-8)(18.6,1.9e-9)(19.0,1.45e-8)(19.5,1.8e-9)(20.2,2.1e-9)(20.8,5.9e-9)(21.3,1.8e-9)(22.5,1.3e-9)};
\addlegendentry{ITMY\_ST1\_CPSINF\_V3}
\addplot[c5, spectop, forget plot] table[x=f, y=b] {\topband};
\addplot[c6, spectop] coordinates {(0.01,5e-9)(0.1,1e-9)(0.7,4e-10)(100,4e-10)};
\addlegendentry{ADE 1mm noise}
\end{axis}

% ---------------- BOTTOM: ITMY_ST2 ----------------
\begin{axis}[at={(90.15pt,52.68pt)}, anchor=south west,
  xmode=log, ymode=log,
  scale only axis, width=558.15pt, height=168pt,
  xmin=0.01, xmax=200,
  xtick={0.01,0.1,1,10,100},
  xticklabels={\tklab{−2},\tklab{−1},\tklab{0},\tklab{1},\tklab{2}},
  minor xtick={0.02,0.03,0.04,0.05,0.06,0.07,0.08,0.09,0.2,0.3,0.4,0.5,0.6,0.7,0.8,0.9,2,3,4,5,6,7,8,9,20,30,40,50,60,70,80,90,200},
  grid=both,
  major grid style={gridc, line width=0.35pt},
  minor grid style={gridc, line width=0.35pt},
  axis line style={black, line width=0.5pt},
  tick style={black, line width=0.35pt},
  tick align=outside, major tick length=1.1pt, minor tick length=0.7pt,
  xtick pos=bottom, ytick pos=left,
  xticklabel style={font=\fontsize{4.1}{5}\selectfont, anchor=north, inner sep=0pt, yshift=-2.6pt},
  yticklabel style={font=\fontsize{4.1}{5}\selectfont, anchor=east, inner sep=0pt, xshift=-2.3pt},
  xlabel={Freq (hz)}, ylabel={m/rthz},
  xlabel style={font=\fontsize{7.4}{8}\selectfont, at={(axis description cs:0.5,0)}, anchor=base, yshift=-15.9pt},
  ylabel style={font=\fontsize{7.4}{8}\selectfont, at={(axis description cs:-0.0353,0.5)}, anchor=center},
  title style={font=\fontsize{8.2}{10}\selectfont, at={(axis description cs:0.5,1)}, anchor=base, yshift=-3.5pt},
  legend cell align=left,
  legend style={at={(axis description cs:1,1)}, anchor=north east, xshift=-4.5pt, yshift=-4.5pt,
    draw=gray!25, line width=0.4pt, rounded corners=1.5pt, fill=white, fill opacity=0.8, text opacity=1, draw opacity=1,
    font=\fontsize{8.2}{10}\selectfont, inner xsep=2.6pt, inner ysep=3.2pt, row sep=4.6pt, column sep=0pt,
    nodes={inner sep=0pt, text height=6.3pt, text depth=2pt}},
  legend image code/.code={\draw[#1, line width=1.2pt] (0pt,2.9pt) -- (18pt,2.9pt); \path (0pt,0pt) (24.6pt,0pt);},
  ymin=3.27e-12, ymax=3.53e-7,
  ytick={1e-11,1e-10,1e-9,1e-8,1e-7},
  yticklabels={\tklab{−11},\tklab{−10},\tklab{−9},\tklab{−8},\tklab{−7}},
  minor ytick={4e-12,5e-12,6e-12,7e-12,8e-12,9e-12,2e-11,3e-11,4e-11,5e-11,6e-11,7e-11,8e-11,9e-11,2e-10,3e-10,4e-10,5e-10,6e-10,7e-10,8e-10,9e-10,2e-9,3e-9,4e-9,5e-9,6e-9,7e-9,8e-9,9e-9,2e-8,3e-8,4e-8,5e-8,6e-8,7e-8,8e-8,9e-8,2e-7,3e-7},
  title={ITMY\_ST2}]
\addplot[c0, spec] coordinates {
(0.01667,1.03e-7)(0.03333,1.6e-7)(0.05,2.11e-7)(0.06667,1.87e-7)(0.08333,1.24e-7)(0.1,7.6e-8)(0.1167,8.6e-8)(0.1333,9.8e-8)(0.15,1.03e-7)(0.1667,8.6e-8)(0.1833,7.2e-8)(0.2,8.1e-8)(0.2167,7.4e-8)(0.2333,6.0e-8)(0.25,4.4e-8)(0.2667,2.3e-8)(0.2833,1.27e-8)(0.3,6.7e-9)(0.3167,4.1e-9)(0.3333,3.37e-9)(0.35,3.2e-9)(0.3667,2.75e-9)(0.3833,1.75e-9)(0.4,1.5e-9)
(0.4167,1.1e-9)(0.433,7.5e-10)(0.462,7.1e-10)(0.489,5.3e-10)(0.516,4.7e-10)(0.545,4.9e-10)(0.565,4.3e-10)(0.608,4.6e-10)(0.642,3.3e-10)(0.678,1.9e-10)(0.716,1.9e-10)(0.765,1.8e-10)(0.798,1.2e-10)(0.843,1.05e-10)(0.89,1.1e-10)(0.939,8.8e-11)(1.02,8.8e-11)(1.08,7.4e-11)(1.12,8e-11)(1.17,7.8e-11)(1.23,5.7e-11)(1.34,5.4e-11)(1.45,5.2e-11)(1.53,5.7e-11)(1.62,4.8e-11)
(1.7,4.6e-11)(1.85,3.3e-11)(2.0,5e-11)(2.2,3.4e-11)(2.4,4.8e-11)(2.6,3.2e-11)(2.85,4.9e-11)(3.1,3.3e-11)(3.4,4.7e-11)(3.7,3.2e-11)(4.05,4.8e-11)(4.4,3.3e-11)(4.8,4.6e-11)(5.3,3.1e-11)(5.8,4.5e-11)(6.3,3.2e-11)(6.9,4.7e-11)(7.5,3.2e-11)(8.2,4.6e-11)(9.0,3.2e-11)(9.8,4.8e-11)(10.7,3.2e-11)(11.7,4.5e-11)(12.8,3.0e-11)(14.0,4.4e-11)(15.3,3.0e-11)(16.7,4.3e-11)(18.2,3.0e-11)(20,4.4e-11)(22,3.0e-11)(25,4.8e-11)(28,3.1e-11)(32,4.7e-11)(36,3.0e-11)(41,4.9e-11)(46,3.0e-11)(52,4.8e-11)(57,3.1e-11)(59.5,5e-11)(60,2.1e-10)(60.5,4e-11)(66,3.0e-11)(74,4.9e-11)(83,3.0e-11)(93,4.8e-11)(104,3.1e-11)(117,4.9e-11)(131,3.0e-11)(147,4.8e-11)(165,3.0e-11)(185,4.9e-11)(200,3.2e-11)};
\addlegendentry{ITMY\_ST2\_CPSINF\_H1}
\addplot[c1, spec] coordinates {
(0.01667,5.2e-8)(0.03333,9.2e-8)(0.05,1.7e-7)(0.06667,1.82e-7)(0.08333,9.8e-8)(0.1,7.4e-8)(0.1167,1.16e-7)(0.1333,1.33e-7)(0.15,8.8e-8)(0.1667,7e-8)(0.1833,5.1e-8)(0.2,4.5e-8)(0.2167,3.9e-8)(0.2333,3.5e-8)(0.25,2.6e-8)(0.2667,1.17e-8)(0.2833,6.7e-9)(0.3,4.0e-9)(0.3167,2.95e-9)(0.3333,2.4e-9)(0.35,1.9e-9)(0.3667,1.37e-9)(0.3833,1.0e-9)(0.4,7.8e-10)
(0.4167,6.9e-10)(0.438,4.9e-10)(0.462,5.6e-10)(0.489,4.9e-10)(0.516,3.8e-10)(0.545,4.5e-10)(0.576,2.8e-10)(0.608,2.6e-10)(0.65,1.6e-10)(0.678,1.5e-10)(0.716,1.36e-10)(0.745,1.1e-10)(0.77,1.25e-10)(0.8,1.1e-10)(0.84,9.5e-11)(0.9,8.8e-11)(0.95,5.3e-11)(0.99,7.5e-11)(1.05,6.5e-11)(1.17,6.7e-11)(1.23,5.7e-11)(1.3,4.8e-11)(1.4,5.2e-11)(1.5,4.5e-11)(1.6,5e-11)
(1.7,4.0e-11)(1.85,2.7e-11)(2.0,4.2e-11)(2.2,2.8e-11)(2.4,4.1e-11)(2.6,2.7e-11)(2.85,4.0e-11)(3.1,2.6e-11)(3.4,4.1e-11)(3.7,2.7e-11)(4.05,4.2e-11)(4.4,2.6e-11)(4.8,4.0e-11)(5.3,2.6e-11)(5.8,4.1e-11)(6.3,2.7e-11)(6.9,4.2e-11)(7.5,2.6e-11)(8.2,4.0e-11)(9.0,2.6e-11)(9.8,4.1e-11)(10.7,2.5e-11)(11.7,4.0e-11)(12.8,2.4e-11)(14.0,4.1e-11)(15.3,2.4e-11)(16.7,4.2e-11)(18.2,2.3e-11)(20,4.0e-11)(22,2.4e-11)(25,4.3e-11)(28,2.5e-11)(32,4.4e-11)(36,2.4e-11)(41,4.3e-11)(46,2.5e-11)(52,4.4e-11)(58,2.4e-11)(66,4.3e-11)(74,2.5e-11)(83,4.4e-11)(93,2.4e-11)(104,4.3e-11)(107,1.0e-10)(108,1.4e-10)(109.5,4e-11)(117,2.5e-11)(131,4.4e-11)(147,2.4e-11)(165,4.3e-11)(185,2.5e-11)(200,4.2e-11)};
\addlegendentry{ITMY\_ST2\_CPSINF\_H2}
\addplot[c2, spec] coordinates {
(0.01667,6.1e-8)(0.03333,9.3e-8)(0.05,9.3e-8)(0.06667,8.6e-8)(0.08333,6.4e-8)(0.1,5.7e-8)(0.1167,1.02e-7)(0.1333,9.7e-8)(0.15,8.8e-8)(0.1667,7.1e-8)(0.1833,4.4e-8)(0.2,4.7e-8)(0.2167,4.2e-8)(0.2333,3.5e-8)(0.25,2.5e-8)(0.2667,1.4e-8)(0.2833,7.9e-9)(0.3,5.9e-9)(0.3167,4.0e-9)(0.3333,3.1e-9)(0.35,2.3e-9)(0.3667,1.7e-9)(0.3833,1.26e-9)(0.4,9.7e-10)
(0.4167,6.3e-10)(0.438,4.3e-10)(0.462,4.1e-10)(0.489,3.6e-10)(0.516,3.3e-10)(0.545,3.2e-10)(0.576,2.6e-10)(0.608,2.4e-10)(0.642,1.9e-10)(0.678,1.7e-10)(0.716,1.5e-10)(0.756,1.1e-10)(0.798,1.05e-10)(0.843,6.7e-11)(0.89,8e-11)(0.939,6.7e-11)(1.05,5.2e-11)(1.17,4.8e-11)(1.35,6.5e-11)(1.45,4.6e-11)(1.6,4.2e-11)
(1.7,4.3e-11)(1.85,2.8e-11)(2.0,4.4e-11)(2.2,2.9e-11)(2.4,4.3e-11)(2.6,2.7e-11)(2.85,4.4e-11)(3.1,2.8e-11)(3.4,4.2e-11)(3.7,2.7e-11)(4.05,4.3e-11)(4.4,2.8e-11)(4.8,4.2e-11)(5.3,2.7e-11)(5.8,4.3e-11)(6.3,2.7e-11)(6.9,4.1e-11)(7.5,2.7e-11)(8.2,4.2e-11)(9.0,2.7e-11)(9.8,4.0e-11)(10.4,2.3e-11)(11,3.8e-11)(11.6,2.3e-11)(12.2,3.9e-11)(12.8,2.2e-11)(13.5,3.8e-11)(14.2,2.3e-11)(15,3.9e-11)(15.8,2.2e-11)(16.6,3.8e-11)(17.4,2.3e-11)(18.3,3.9e-11)(19.2,2.2e-11)(20.2,3.8e-11)(21.3,2.3e-11)(22.5,4.2e-11)(25,2.5e-11)(28,4.3e-11)(32,2.5e-11)(36,4.4e-11)(41,2.6e-11)(46,4.3e-11)(52,2.5e-11)(57,4.4e-11)(59.5,2.6e-11)(60,1.7e-10)(60.5,3e-11)(66,4.3e-11)(74,2.5e-11)(83,4.4e-11)(93,2.6e-11)(104,4.3e-11)(117,2.5e-11)(131,4.4e-11)(147,2.6e-11)(165,4.3e-11)(185,2.5e-11)(200,4.2e-11)};
\addlegendentry{ITMY\_ST2\_CPSINF\_H3}
\addplot[c3, spec] coordinates {
(0.01667,1.73e-9)(0.03333,3.5e-9)(0.05,7.3e-9)(0.06667,8.3e-9)(0.08333,4.4e-9)(0.1,2.8e-9)(0.1167,4.45e-9)(0.1333,3.75e-9)(0.15,2.4e-9)(0.1667,1.25e-9)(0.1833,4.5e-10)(0.2,2.9e-10)(0.2167,2.2e-10)(0.2333,2.35e-10)(0.25,2.25e-10)(0.2667,1.9e-10)(0.2833,1.8e-10)(0.3,1.37e-10)(0.3167,1.43e-10)(0.3333,1.24e-10)(0.35,1.22e-10)(0.3667,1.02e-10)(0.3833,1.35e-10)(0.4,1.37e-10)
(0.4167,1.1e-10)(0.438,1.0e-10)(0.462,1.05e-10)(0.489,1.05e-10)(0.516,9.3e-11)(0.545,8.1e-11)(0.576,7.0e-11)(0.608,6.7e-11)(0.642,6.2e-11)(0.678,4.3e-11)(0.716,4.0e-11)(0.756,3.1e-11)(0.798,3.2e-11)(0.843,2.8e-11)(0.89,2.4e-11)(0.939,2.4e-11)(0.99,2.7e-11)(1.05,2.6e-11)(1.1,2.2e-11)(1.17,2.4e-11)(1.23,2.4e-11)(1.3,2.1e-11)(1.37,2.6e-11)(1.45,2.2e-11)(1.53,2.7e-11)(1.62,2.3e-11)
(1.7,2.9e-11)(1.8,2.1e-11)(1.9,3.0e-11)(2.0,2.0e-11)(2.12,3.1e-11)(2.25,2.1e-11)(2.38,3.0e-11)(2.52,2.0e-11)(2.67,3.1e-11)(2.83,2.1e-11)(3.0,3.2e-11)(3.18,2.1e-11)(3.37,3.1e-11)(3.57,2.1e-11)(3.78,3.2e-11)(4.0,2.2e-11)(4.24,3.2e-11)(4.5,2.1e-11)(4.77,3.3e-11)(5.05,2.2e-11)(5.35,3.2e-11)(5.67,2.2e-11)(6.0,3.3e-11)(6.36,2.2e-11)(6.74,3.2e-11)(7.15,2.2e-11)(7.58,3.3e-11)(8.03,2.2e-11)(8.5,3.3e-11)(9.0,2.3e-11)(9.55,3.4e-11)(10.1,2.3e-11)(10.7,3.4e-11)(11.4,2.3e-11)(12.0,3.5e-11)(12.7,2.3e-11)(13.5,3.4e-11)(14.3,2.3e-11)(15.2,3.6e-11)(16.1,2.3e-11)(17.1,3.5e-11)(18.1,2.3e-11)(19.2,3.6e-11)(20.4,2.4e-11)(20.9,2.1e-10)(21.4,2.4e-11)(22.5,3.2e-11)};
\addlegendentry{ITMY\_ST2\_CPSINF\_V1}
\addplot[c3, spec, forget plot] table[x=f, y=r] {\botband};
\addplot[c4, spec] coordinates {
(0.01667,1.6e-9)(0.03333,3.3e-9)(0.05,6.7e-9)(0.06667,7.9e-9)(0.08333,4.3e-9)(0.1,2.5e-9)(0.1167,3.6e-9)(0.1333,2.95e-9)(0.15,1.84e-9)(0.1667,9.3e-10)(0.1833,5.0e-10)(0.2,3.2e-10)(0.2167,2.35e-10)(0.2333,2.2e-10)(0.25,1.6e-10)(0.2667,1.3e-10)(0.2833,1.1e-10)(0.3,9.5e-11)(0.3167,8.8e-11)(0.3333,6.5e-11)(0.35,5.8e-11)(0.3667,7.1e-11)(0.3833,9.5e-11)(0.4,9.5e-11)
(0.4167,8.8e-11)(0.438,8.8e-11)(0.462,8.1e-11)(0.489,9.2e-11)(0.516,8.5e-11)(0.545,8.1e-11)(0.576,7.0e-11)(0.608,6.5e-11)(0.642,6.2e-11)(0.678,4.0e-11)(0.716,3.7e-11)(0.756,3.1e-11)(0.798,3.4e-11)(0.843,3.3e-11)(0.89,3.4e-11)(0.939,3.5e-11)(0.99,3.4e-11)(1.05,3.7e-11)(1.1,3.1e-11)(1.17,3.5e-11)(1.25,4.0e-11)(1.3,4.8e-11)(1.37,4.2e-11)(1.45,3.6e-11)(1.55,4.0e-11)(1.62,3.5e-11)
(1.7,4.8e-11)(1.8,3.2e-11)(1.9,5.0e-11)(2.0,3.3e-11)(2.15,4.9e-11)(2.3,3.2e-11)(2.45,5.0e-11)(2.6,3.3e-11)(2.8,5.1e-11)(3.0,3.3e-11)(3.2,5.0e-11)(3.45,3.3e-11)(3.7,5.1e-11)(3.95,3.4e-11)(4.25,5.0e-11)(4.55,3.3e-11)(4.9,5.1e-11)(5.25,3.3e-11)(5.65,5.0e-11)(6.05,3.3e-11)(6.5,5.1e-11)(7.0,3.4e-11)(7.5,5.2e-11)(8.05,3.4e-11)(8.65,5.3e-11)(9.3,3.4e-11)(10,5.5e-11)(10.7,3.5e-11)(11.5,6.0e-11)(12.3,3.6e-11)(13.2,6.5e-11)(14.2,3.6e-11)(15.2,1.0e-10)(15.6,3.8e-11)(16.0,2.6e-10)(16.3,4e-11)(16.8,3.2e-10)(17.2,4.2e-11)(18.2,3.0e-10)(18.6,4.2e-11)(19.1,5.0e-10)(19.5,4.2e-11)(20.9,2.0e-10)(21.5,3.8e-11)(22.5,5.5e-11)(23.7,1.15e-10)(24.5,3.2e-11)(25.5,5.2e-11)(26.3,8.8e-11)(27.2,3.2e-11)(28.5,2.7e-10)(29.5,3.2e-11)(31,5.0e-11)(33.5,6.7e-11)(35,3.1e-11)(38,5.0e-11)(41,3.0e-11)(44,5.0e-11)(48,3.0e-11)(52,4.9e-11)(57,3.0e-11)(62,5.0e-11)(68,3.0e-11)(74,4.9e-11)(81,3.0e-11)(89,5.0e-11)(97,3.0e-11)(104,5.0e-11)(106.5,1.0e-10)(108,1.45e-10)(110,4.5e-11)(118,3.0e-11)(126,5.0e-11)(131,3.5e-11)(132,8.9e-11)(133,3.5e-11)(142,5.0e-11)(153,3.0e-11)(165,5.0e-11)(178,3.0e-11)(190,5.0e-11)(200,3.0e-11)};
\addlegendentry{ITMY\_ST2\_CPSINF\_V2}
\addplot[c5, spec] coordinates {
(0.01667,1.84e-9)(0.03333,4.0e-9)(0.05,7.9e-9)(0.06667,8.7e-9)(0.08333,4.5e-9)(0.1,2.3e-9)(0.1167,3.6e-9)(0.1333,3.05e-9)(0.15,2.0e-9)(0.1667,1.16e-9)(0.1833,7.4e-10)(0.2,7.1e-10)(0.2167,6.0e-10)(0.2333,4.5e-10)(0.25,3.5e-10)(0.2667,1.45e-10)(0.2833,1.13e-10)(0.3,1.06e-10)(0.3167,1.06e-10)(0.3333,9.5e-11)(0.35,8.9e-11)(0.3667,9.3e-11)(0.3833,1.18e-10)(0.4,1.13e-10)
(0.4167,1.13e-10)(0.438,1.05e-10)(0.462,9.6e-11)(0.489,1.05e-10)(0.516,9.6e-11)(0.545,8.8e-11)(0.576,8.1e-11)(0.608,6.5e-11)(0.642,6.2e-11)(0.678,4.3e-11)(0.716,4.0e-11)(0.74,4.4e-11)(0.756,3.0e-11)(0.798,3.4e-11)(0.843,2.8e-11)(0.89,2.65e-11)(0.939,2.6e-11)(0.992,2.7e-11)(1.047,2.8e-11)(1.106,2.3e-11)(1.168,2.4e-11)(1.233,2.8e-11)(1.302,3.4e-11)(1.374,2.9e-11)(1.451,3.2e-11)(1.53,2.8e-11)(1.62,3.3e-11)
(1.7,4.2e-11)(1.79,2.9e-11)(1.88,4.4e-11)(1.98,3.0e-11)(2.09,4.3e-11)(2.2,2.8e-11)(2.31,4.5e-11)(2.43,3.0e-11)(2.56,4.4e-11)(2.7,2.9e-11)(2.84,4.6e-11)(2.99,3.0e-11)(3.15,4.4e-11)(3.31,3.0e-11)(3.49,4.6e-11)(3.67,3.1e-11)(3.87,4.5e-11)(4.07,3.0e-11)(4.29,4.8e-11)(4.51,3.1e-11)(4.75,4.6e-11)(5.0,3.0e-11)(5.34,7.4e-11)(5.55,3.1e-11)(5.84,4.8e-11)(6.15,3.0e-11)(6.48,4.7e-11)(6.7,7.7e-11)(7.0,3.1e-11)(7.3,4.9e-11)(7.6,3.2e-11)(7.96,5.0e-11)(8.38,3.2e-11)(8.83,5.0e-11)(9.3,3.3e-11)(9.8,1.0e-10)(10.1,3.3e-11)(10.5,5.5e-11)(11.0,3.4e-11)(11.5,5.8e-11)(12.0,3.5e-11)(12.6,1.2e-10)(12.9,4e-11)(13.1,1.2e-10)(13.5,3.6e-11)(14.0,6e-11)(14.5,1.0e-10)(15.0,8.5e-11)(15.5,3.8e-11)(16.0,2.6e-10)(16.3,4e-11)(16.8,3.2e-10)(17.2,4.2e-11)(17.6,7e-11)(18.2,3.0e-10)(18.6,4e-11)(19.1,5.0e-10)(19.5,4.2e-11)(20.1,7e-11)(20.9,2.1e-10)(21.4,4e-11)(22.0,6e-11)(22.5,4.6e-11)};
\addlegendentry{ITMY\_ST2\_CPSINF\_V3}
\addplot[c5, spec, forget plot] table[x=f, y=b] {\botband};
\addplot[c6, spec] coordinates {(0.01,7.6e-10)(0.1,1.52e-10)(0.7,6.08e-11)(100,6.08e-11)};
\addlegendentry{ADE .25mm noise}
\end{axis}
\end{tikzpicture}
\end{document}
